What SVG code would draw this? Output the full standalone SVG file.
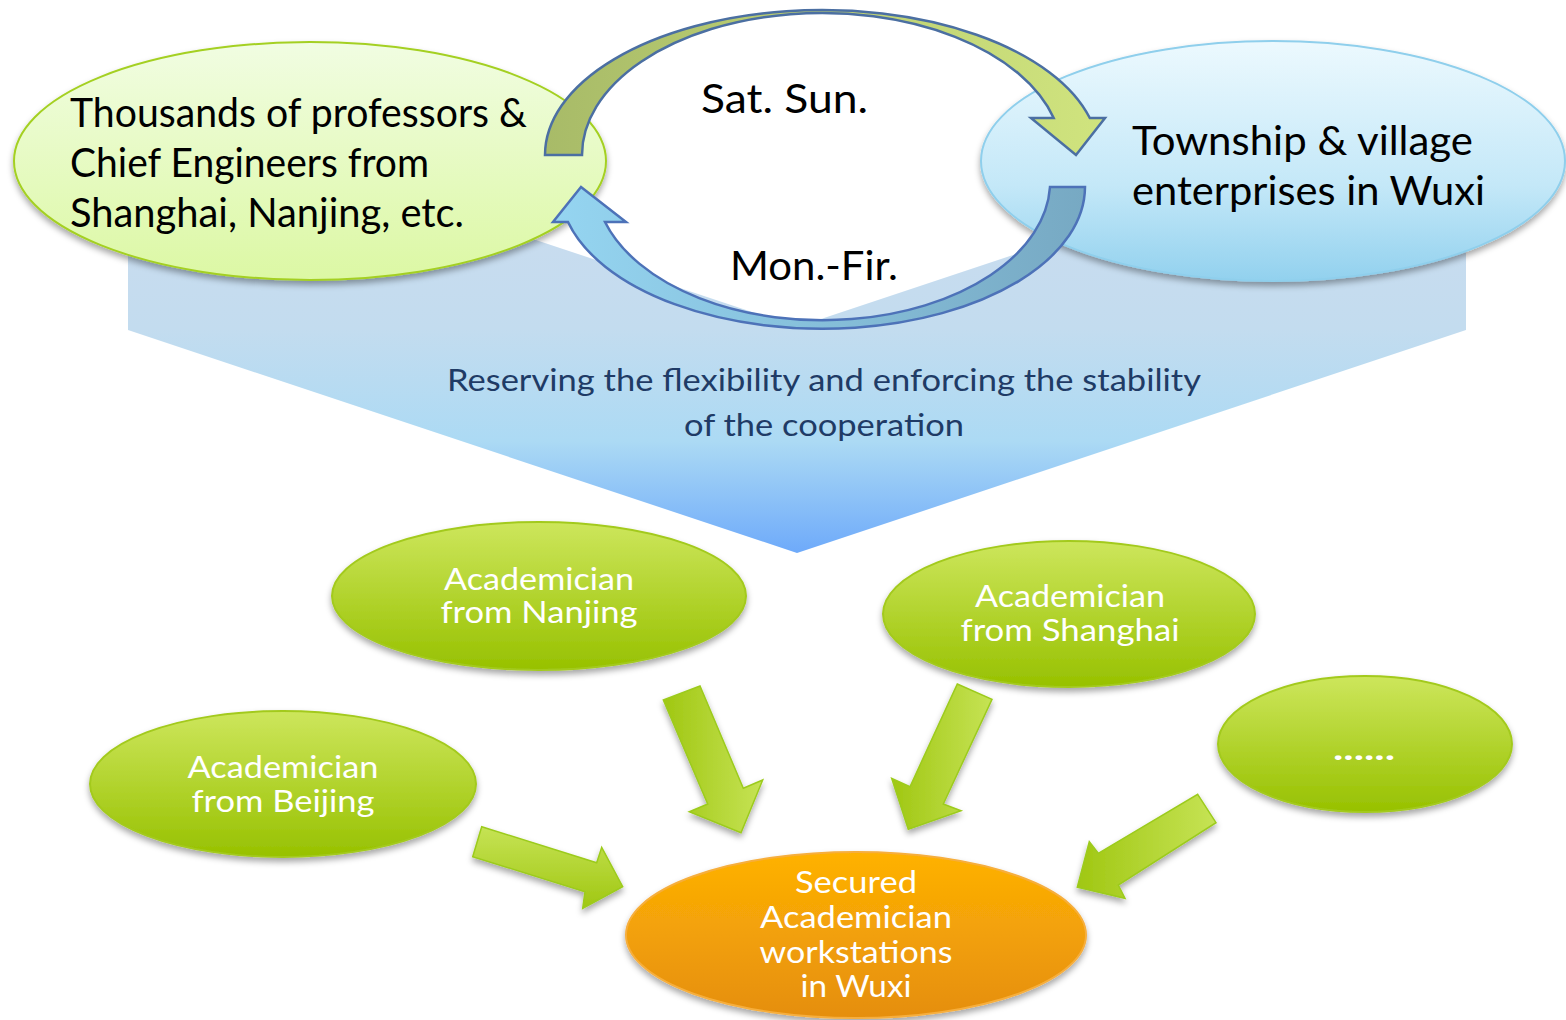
<svg xmlns="http://www.w3.org/2000/svg" width="1566" height="1020" viewBox="0 0 1566 1020">
<style>
.big{font-family:Lato,"Open Sans","Liberation Sans",sans-serif;font-size:40px;fill:#000}
.mid{font-family:Lato,"Open Sans","Liberation Sans",sans-serif;font-size:31px;fill:#1f3b66}
.wt{font-family:Lato,"Open Sans","Liberation Sans",sans-serif;font-size:30px;fill:#fff;text-anchor:middle}
.gel{fill:url(#gGreen);stroke:#a3ca1e;stroke-width:2}
.blk{stroke:#9ccb1c;stroke-width:1.5;stroke-linejoin:miter}
</style>
<defs>
<linearGradient id="gChev" gradientUnits="userSpaceOnUse" x1="0" y1="104" x2="0" y2="553">
<stop offset="0" stop-color="#cfdcee"/><stop offset="0.5" stop-color="#c3dcef"/><stop offset="0.75" stop-color="#acdaf4"/><stop offset="1" stop-color="#6eaafa"/>
</linearGradient>
<linearGradient id="gLeft" x1="0" y1="0" x2="0" y2="1">
<stop offset="0" stop-color="#f1fde2"/><stop offset="1" stop-color="#dcf8a4"/>
</linearGradient>
<linearGradient id="gRight" x1="0" y1="0" x2="0" y2="1">
<stop offset="0" stop-color="#ecf9fe"/><stop offset="0.6" stop-color="#c4e8f8"/><stop offset="1" stop-color="#92d1ee"/>
</linearGradient>
<linearGradient id="gTopArr" gradientUnits="userSpaceOnUse" x1="545" y1="0" x2="1105" y2="0">
<stop offset="0" stop-color="#a8bb68"/><stop offset="1" stop-color="#d0e47e"/>
</linearGradient>
<linearGradient id="gBotArr" gradientUnits="userSpaceOnUse" x1="553" y1="0" x2="1085" y2="0">
<stop offset="0" stop-color="#95d5f1"/><stop offset="1" stop-color="#77a9c3"/>
</linearGradient>
<linearGradient id="gGreen" x1="0" y1="0" x2="0" y2="1">
<stop offset="0" stop-color="#cde65c"/><stop offset="1" stop-color="#97c100"/>
</linearGradient>
<linearGradient id="gOrange" x1="0" y1="0" x2="0" y2="1">
<stop offset="0" stop-color="#ffb203"/><stop offset="1" stop-color="#e58e0d"/>
</linearGradient>
<linearGradient id="gArrH" x1="0" y1="0" x2="1" y2="0">
<stop offset="0" stop-color="#a0c712"/><stop offset="1" stop-color="#c6e355"/>
</linearGradient>
<linearGradient id="gArrV" x1="0" y1="0" x2="0" y2="1">
<stop offset="0" stop-color="#c6e355"/><stop offset="1" stop-color="#a0c712"/>
</linearGradient>
<filter id="sh" x="-10%" y="-10%" width="120%" height="130%">
<feDropShadow dx="0" dy="4" stdDeviation="3" flood-color="#000" flood-opacity="0.35"/>
</filter>
</defs>

<g id="chevron">
<path d="M128,104 L797,327 L1466,104 L1466,330 L797,553 L128,330 Z" fill="url(#gChev)"/>
<text class="mid" x="447" y="391" textLength="754" lengthAdjust="spacingAndGlyphs">Reserving the flexibility and enforcing the stability</text>
<text class="mid" x="684" y="436" textLength="280" lengthAdjust="spacingAndGlyphs">of the cooperation</text>
</g>

<g id="professors">
<ellipse cx="310" cy="161" rx="296" ry="119" fill="url(#gLeft)" stroke="#a4d022" stroke-width="2" filter="url(#sh)"/>
<text class="big" x="70" y="127" textLength="457" lengthAdjust="spacingAndGlyphs">Thousands of professors &amp;</text>
<text class="big" x="70" y="177" textLength="359" lengthAdjust="spacingAndGlyphs">Chief Engineers from</text>
<text class="big" x="70" y="227" textLength="394" lengthAdjust="spacingAndGlyphs">Shanghai, Nanjing, etc.</text>
</g>

<g id="enterprises">
<ellipse cx="1273" cy="161" rx="292" ry="120" fill="url(#gRight)" stroke="#8fcfec" stroke-width="2" filter="url(#sh)"/>
<text class="big" x="1132" y="155" textLength="341" lengthAdjust="spacingAndGlyphs">Township &amp; village</text>
<text class="big" x="1132" y="205" textLength="353" lengthAdjust="spacingAndGlyphs">enterprises in Wuxi</text>
</g>

<g id="cycle-connectors">
<path d="M545,155 A277,145 0 0 1 1089.8,118 L1105,118 L1076,155 L1031,118 L1053.7,118 A240,142 0 0 0 582,155 Z" fill="url(#gTopArr)" stroke="#4b6fa2" stroke-width="2.5" stroke-linejoin="miter"/>
<path d="M1085,187 A262.6,142 0 0 1 568,222 L553,222 L581,187 L626,222 L605,222 A227.6,139 0 0 0 1050,187 Z" fill="url(#gBotArr)" stroke="#4d72b8" stroke-width="2.5" stroke-linejoin="miter"/>
<text class="big" x="701" y="113" textLength="167" lengthAdjust="spacingAndGlyphs">Sat. Sun.</text>
<text class="big" x="730" y="280" textLength="168" lengthAdjust="spacingAndGlyphs">Mon.-Fir.</text>
</g>

<g id="nanjing">
<ellipse class="gel" cx="539" cy="596" rx="207" ry="74" filter="url(#sh)"/>
<text class="wt" x="539" y="590" textLength="190" lengthAdjust="spacingAndGlyphs">Academician</text>
<text class="wt" x="539" y="623" textLength="197" lengthAdjust="spacingAndGlyphs">from Nanjing</text>
</g>

<g id="shanghai">
<ellipse class="gel" cx="1069" cy="614" rx="186" ry="73" filter="url(#sh)"/>
<text class="wt" x="1070" y="607" textLength="190" lengthAdjust="spacingAndGlyphs">Academician</text>
<text class="wt" x="1070" y="641" textLength="219" lengthAdjust="spacingAndGlyphs">from Shanghai</text>
</g>

<g id="beijing">
<ellipse class="gel" cx="283" cy="784" rx="193" ry="73" filter="url(#sh)"/>
<text class="wt" x="283" y="778" textLength="191" lengthAdjust="spacingAndGlyphs">Academician</text>
<text class="wt" x="283" y="812" textLength="183" lengthAdjust="spacingAndGlyphs">from Beijing</text>
</g>

<g id="others">
<ellipse class="gel" cx="1365" cy="744" rx="147" ry="68" filter="url(#sh)"/>
<text class="wt" x="1364" y="760" font-size="38" font-weight="bold" textLength="62" lengthAdjust="spacingAndGlyphs">......</text>
</g>

<g id="workstations">
<ellipse cx="856" cy="935" rx="230" ry="83" fill="url(#gOrange)" stroke="#f6ae3c" stroke-width="2" filter="url(#sh)"/>
<text class="wt" x="856" y="893" textLength="122" lengthAdjust="spacingAndGlyphs">Secured</text>
<text class="wt" x="856" y="928" textLength="192" lengthAdjust="spacingAndGlyphs">Academician</text>
<text class="wt" x="856" y="963" textLength="193" lengthAdjust="spacingAndGlyphs">workstations</text>
<text class="wt" x="856" y="997" textLength="111" lengthAdjust="spacingAndGlyphs">in Wuxi</text>
</g>

<g id="connectors">
<path class="blk" fill="url(#gArrH)" filter="url(#sh)" d="M663.3,700 L700,686 L743.3,788.3 L762.7,780 L741,832.7 L689.3,811.7 L707.7,804 Z"/>
<path class="blk" fill="url(#gArrH)" filter="url(#sh)" d="M957.3,684 L992,699.3 L943.3,804 L961,810.7 L908.3,829.3 L891.7,778.3 L910,786.7 Z"/>
<path class="blk" fill="url(#gArrV)" filter="url(#sh)" d="M481.7,826.7 L472.7,856.7 L585,891.7 L582.7,908.3 L622.7,886.7 L601.7,847.3 L596.7,862.7 Z"/>
<path class="blk" fill="url(#gArrH)" filter="url(#sh)" d="M1197.7,794.3 L1216,822.7 L1118.3,885 L1125,898.3 L1077.3,887.3 L1089.3,841.7 L1098.3,853.3 Z"/>
</g>
</svg>
